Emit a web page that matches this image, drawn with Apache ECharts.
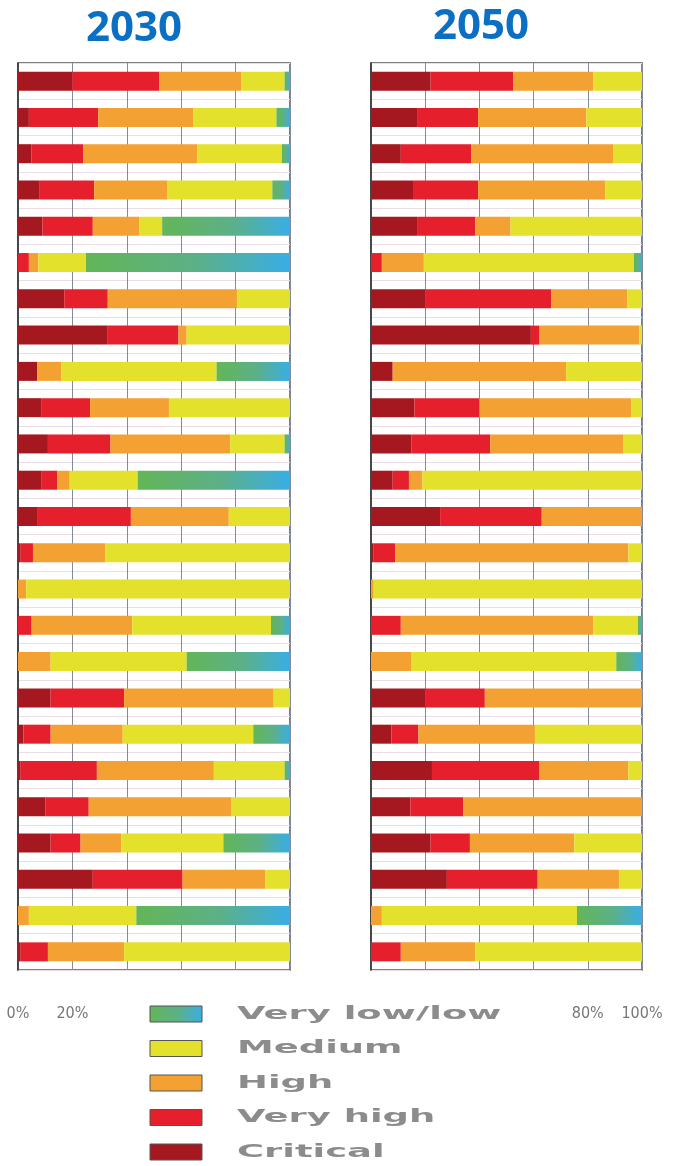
<!DOCTYPE html>
<html>
<head>
<meta charset="utf-8">
<script src="https://cdn.jsdelivr.net/npm/echarts@6/dist/echarts.min.js"></script>
<style>html,body{margin:0;padding:0;background:#fff}#c{width:673px;height:1166px}</style>
</head>
<body>
<div id="c"></div>
<script>
var rows = ['1','2','3','4','5','6','7','8','9','10','11','12','13','14','15','16','17','18','19','20','21','22','23','24','25'];
var seriesNames = ['Critical','Very high','High','Medium','Very low/low'];
var legendOrder = ['Very low/low','Medium','High','Very high','Critical'];
var panelTitles = ['2030','2050'];
var xTickValues = [0,20,40,60,80,100];
var leftTickLabels = {0:'0%',20:'20%'};
var rightTickLabels = {80:'80%',100:'100%'};

// 2030 (left panel), percent of each row
var critical2030 = [20,4,5,8,9,0,17,33,7,8.5,11,8.5,7,1,0,0,0,12,2,1,10,12,27.5,0,1];
var veryHigh2030 = [32,25.5,19,20,18.5,4,16,26,0,18,23,6,34.5,4.5,0,5,0,27,10,28,16,11,33,0,10];
var high2030     = [30,35,42,27,17,3.5,47.5,3,9,29,44,4.5,36,26.5,3,37,12,55,26.5,43,52.5,15,30.5,4,28];
var medium2030   = [16,30.5,31,38.5,8.5,17.5,19.5,38,57,44.5,20,25,22.5,68,97,51,50,6,48,26,21.5,37.5,9,39.5,61];
var low2030      = [2,5,3,6.5,47,75,0,0,27,0,2,56,0,0,0,7,38,0,13.5,2,0,24.5,0,56.5,0];

// 2050 (right panel)
var critical2050 = [22,17,11,15.5,17,0,20,59,8,16,15,8,25.5,1,0,0,0,20,7.5,22.5,14.5,22,28,0,0];
var veryHigh2050 = [30.5,22.5,26,24,21.5,4,46.5,3,0,24,29,6,37.5,8,0,11,0,22,10,39.5,19.5,14.5,33.5,0,11];
var high2050     = [29.5,40,52.5,47,13,15.5,28,37,64,56,49,5,37,86,1,71,15,58,43,33,66,38.5,30,4,27.5];
var medium2050   = [18,20.5,10.5,13.5,48.5,77.5,5.5,1,28,4,7,81,0,5,99,16.5,75.5,0,39.5,5,0,25,8.5,72,61.5];
var low2050      = [0,0,0,0,0,3,0,0,0,0,0,0,0,0,0,1.5,9.5,0,0,0,0,0,0,24,0];

var lowGradient = new echarts.graphic.LinearGradient(0,0,1,0,[
  {offset:0,color:'#63b657'},{offset:0.55,color:'#5cb089'},{offset:1,color:'#39aee6'}]);
var colors = {'Critical':'#a6181f','Very high':'#e51f2b','High':'#f4a133','Medium':'#e4e12c','Very low/low':lowGradient};

var data2030 = [critical2030,veryHigh2030,high2030,medium2030,low2030];
var data2050 = [critical2050,veryHigh2050,high2050,medium2050,low2050];

var grids = [
  {left:18, top:63, width:272, height:907, show:true, borderColor:'#555', borderWidth:1.5, backgroundColor:'#fff'},
  {left:371, top:63, width:271, height:907, show:true, borderColor:'#555', borderWidth:1.5, backgroundColor:'#fff'}
];

function makeX(idx, shown){
  return {
    type:'value', gridIndex:idx, min:0, max:100, interval:20,
    axisLine:{show:false}, axisTick:{show:false},
    splitLine:{show:true, lineStyle:{color:'#838a99', width:1}},
    axisLabel:{
      show:true, margin:36, color:'#777', fontSize:16, fontFamily:'DejaVu Sans Condensed',
      formatter:function(v){ return shown[v] !== undefined ? shown[v] : ''; }
    }
  };
}
function makeY(idx){
  return {
    type:'category', gridIndex:idx, data:rows, inverse:true,
    axisLine:{show:true, lineStyle:{color:'#333', width:1.5}}, axisTick:{show:false}, axisLabel:{show:false},
    splitLine:{show:true, lineStyle:{color:'#eadde5', width:1}}
  };
}

var series = [];
[data2030, data2050].forEach(function(panel, p){
  panel.forEach(function(vals, i){
    var name = seriesNames[i];
    series.push({
      name:name, type:'bar', stack:'p'+p, xAxisIndex:p, yAxisIndex:p,
      barWidth:19, data:vals, itemStyle:{color:colors[name]}, silent:true
    });
  });
});

var graphic = [];
graphic.push({type:'text', left:86, top:8, style:{text:panelTitles[0], fill:'#0b70c3', font:'bold 42px "Open Sans"'}});
graphic.push({type:'text', left:433, top:6, style:{text:panelTitles[1], fill:'#0b70c3', font:'bold 42px "Open Sans"'}});
legendOrder.forEach(function(name, i){
  var cy = 1014 + i*34.5;
  graphic.push({type:'rect', x:150, y:cy-8, shape:{x:0,y:0,width:52,height:16},
    style:{fill:colors[name], stroke:'#555', lineWidth:1}});
  graphic.push({type:'text', x:237, y:cy, scaleX:2.05, scaleY:1,
    style:{text:name, fill:'#8c8c8c', fontSize:18, fontWeight:'bold', fontFamily:'DejaVu Sans', verticalAlign:'middle', align:'left'}});
});

var chart = echarts.init(document.getElementById('c'), null, {renderer:'canvas'});
chart.setOption({
  animation:false,
  backgroundColor:'#fff',
  grid:grids,
  xAxis:[makeX(0,leftTickLabels), makeX(1,rightTickLabels)],
  yAxis:[makeY(0), makeY(1)],
  series:series,
  graphic:graphic
});
</script>
</body>
</html>
